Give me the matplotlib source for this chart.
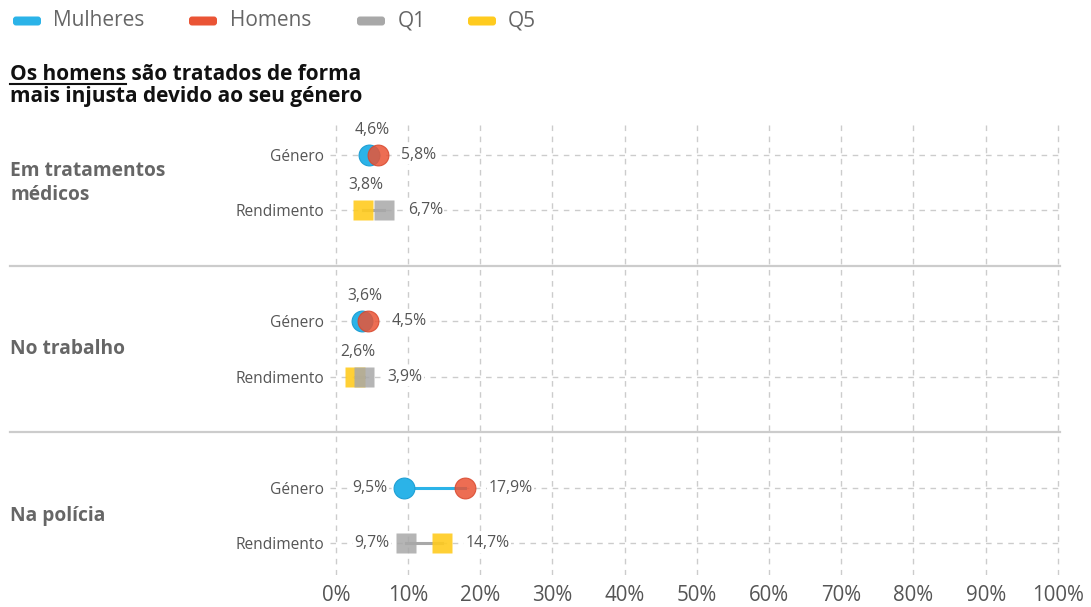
import matplotlib.pyplot as plt
from matplotlib.lines import Line2D
from matplotlib.patches import FancyBboxPatch
from matplotlib.transforms import blended_transform_factory

plt.rcParams['font.family'] = ['Open Sans', 'DejaVu Sans']

categorias = ['Em tratamentos\nmédicos', 'No trabalho', 'Na polícia']
linhas = ['Género', 'Rendimento']
mulheres = [4.6, 3.6, 9.5]
homens = [5.8, 4.5, 17.9]
q1 = [6.7, 3.9, 9.7]
q5 = [3.8, 2.6, 14.7]
xticks = list(range(0, 101, 10))

AZUL = '#2bb3e8'
VERMELHO = '#ea5435'
CINZA = '#a8a8a8'
AMARELO = '#ffcb1f'

W, H = 1091, 607
fx = lambda px: px / W
fy = lambda py: 1 - py / H

fig = plt.figure(figsize=(W / 100, H / 100), dpi=100)
ax = fig.add_axes([fx(330), fy(575), (1060 - 330) / W, (575 - 125) / H])

def fmt(v):
    return f'{v:.1f}'.replace('.', ',') + '%'

def rotulos(y, a, b):
    lo, hi = min(a, b), max(a, b)
    box = dict(facecolor='white', edgecolor='none', pad=1)
    if hi - lo < 4:
        ax.annotate(fmt(lo), (lo, y), xytext=(2, 18), textcoords='offset points',
                    ha='center', va='center', fontsize=11.3, color='#555555', bbox=box, zorder=4)
    else:
        ax.annotate(fmt(lo), (lo, y), xytext=(-12, 0), textcoords='offset points',
                    ha='right', va='center', fontsize=11.3, color='#555555', bbox=box, zorder=4)
    ax.annotate(fmt(hi), (hi, y), xytext=(17, 0), textcoords='offset points',
                ha='left', va='center', fontsize=11.3, color='#555555', bbox=box, zorder=4)

yticks = []
for i in range(len(categorias)):
    yg = 3 * i
    yr = 3 * i + 1
    yticks += [yg, yr]
    # Género
    ax.plot([mulheres[i], homens[i]], [yg, yg], color=AZUL, lw=2.2, zorder=3)
    ax.plot(mulheres[i], yg, 'o', ms=15, color=AZUL, mec='#1f9fd4', mew=0.8, zorder=5)
    ax.plot(homens[i], yg, 'o', ms=15, color=VERMELHO, mec='#d8472c', mew=0.8,
            alpha=0.85, zorder=6)
    rotulos(yg, mulheres[i], homens[i])
    # Rendimento
    ax.plot([q5[i], q1[i]], [yr, yr], color=CINZA, lw=2.2, zorder=3)
    ax.plot(q5[i], yr, 's', ms=14.5, color=AMARELO, mec='none', alpha=0.9, zorder=5)
    ax.plot(q1[i], yr, 's', ms=14.5, color=CINZA, mec='none', alpha=0.85, zorder=6)
    rotulos(yr, q5[i], q1[i])

ax.set_xlim(-0.8, 100.3)
ax.set_ylim(7.57, -0.54)
ax.set_xticks(xticks)
ax.set_xticklabels([f'{t}%' for t in xticks], fontsize=14.8, color='#555555')
ax.set_yticks(yticks)
ax.set_yticklabels(linhas * len(categorias), fontsize=11.2, color='#555555')
ax.tick_params(axis='x', length=0, pad=7)
ax.tick_params(axis='y', length=0, pad=4)
ax.grid(True, linestyle=(0, (4, 4)), color='#cccccc', lw=1)
ax.set_axisbelow(True)
for s in ax.spines.values():
    s.set_visible(False)

# separadores e nomes das categorias
trans = blended_transform_factory(fig.transFigure, ax.transData)
for ysep in [2, 5]:
    ax.add_line(Line2D([fx(10), fx(1060)], [ysep, ysep], transform=trans,
                       color='#cccccc', lw=1.6, clip_on=False))
for i, c in enumerate(categorias):
    ax.text(fx(10), 3 * i + 0.5, c, transform=trans, ha='left', va='center',
            fontsize=13.8, fontweight='bold', color='#666666', linespacing=1.25)

# título
fig.text(fx(10), fy(80), 'Os homens são tratados de forma', ha='left', va='baseline',
         fontsize=15, fontweight='bold', color='#111111')
fig.text(fx(10), fy(102), 'mais injusta devido ao seu género', ha='left', va='baseline',
         fontsize=15, fontweight='bold', color='#111111')
r = fig.canvas.get_renderer()
tmp = fig.text(0, 0, 'Os homens', fontsize=15, fontweight='bold')
wpx = tmp.get_window_extent(r).width
tmp.remove()
fig.add_artist(Line2D([fx(10), fx(10 + wpx)], [fy(83.5), fy(83.5)], color='#111111', lw=1.5))

# legenda
leg = [('Mulheres', AZUL, 13, 53), ('Homens', VERMELHO, 189, 230),
       ('Q1', CINZA, 357, 398), ('Q5', AMARELO, 468, 508)]
for nome, cor, x0, xt in leg:
    fig.add_artist(FancyBboxPatch((x0 / 100, (H - 25.5) / 100), 0.28, 0.09,
                                  boxstyle='round,pad=0,rounding_size=0.03',
                                  transform=fig.dpi_scale_trans, facecolor=cor, edgecolor='none'))
    fig.text(fx(xt), fy(21), nome, ha='left', va='center', fontsize=15, color='#666666')

fig.savefig('out.png', dpi=100)
